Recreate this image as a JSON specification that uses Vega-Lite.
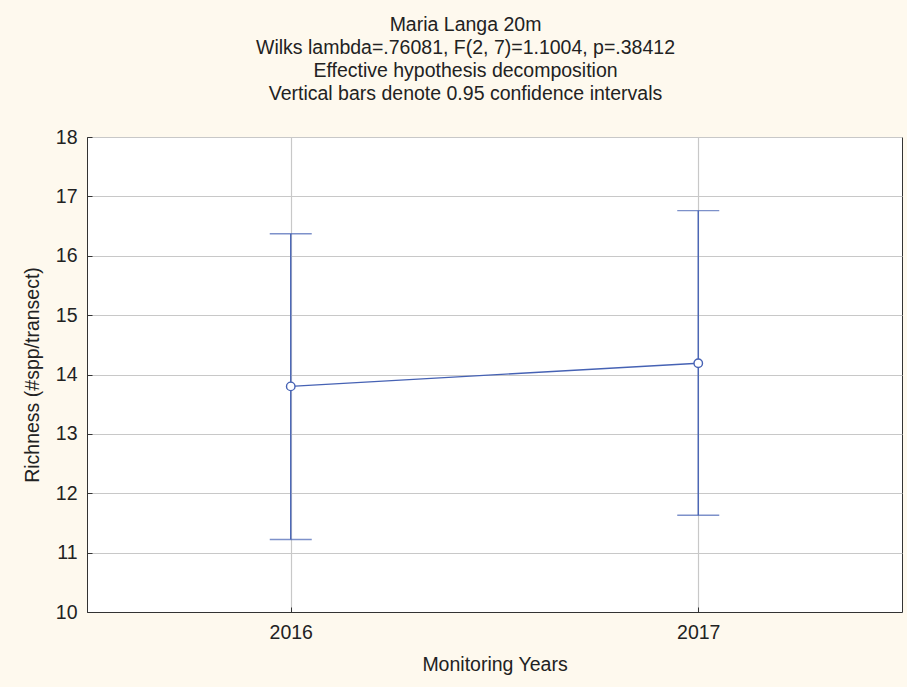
{
  "$schema": "https://vega.github.io/schema/vega-lite/v6.json",
  "width": 815,
  "height": 475,
  "autosize": {"type": "none"},
  "padding": {"left": 87, "top": 137, "right": 5, "bottom": 75},
  "background": "#FEF9EE",
  "title": {
    "text": ["Maria Langa 20m", "Wilks lambda=.76081, F(2, 7)=1.1004, p=.38412", "Effective hypothesis decomposition", "Vertical bars denote 0.95 confidence intervals"],
    "anchor": "middle",
    "dx": -29,
    "offset": 23,
    "font": "Liberation Sans",
    "fontSize": 19.5,
    "fontWeight": "normal",
    "lineHeight": 23,
    "color": "#222222"
  },
  "config": {
    "view": {"stroke": "#333333", "strokeWidth": 1, "fill": "white"},
    "axis": {
      "labelFont": "Liberation Sans",
      "titleFont": "Liberation Sans",
      "labelFontSize": 19.5,
      "titleFontSize": 19.5,
      "titleFontWeight": "normal",
      "labelColor": "#222222",
      "titleColor": "#222222",
      "domainColor": "#333333",
      "tickColor": "#333333",
      "gridColor": "#C8C8C8",
      "gridWidth": 1.2,
      "labelOverlap": false
    }
  },
  "data": {
    "values": [
      {"year": "2016", "mean": 13.8, "lo": 11.22, "hi": 16.37},
      {"year": "2017", "mean": 14.19, "lo": 11.63, "hi": 16.76}
    ]
  },
  "encoding": {
    "x": {
      "field": "year",
      "type": "ordinal",
      "scale": {"type": "point", "padding": 0.5},
      "axis": {"title": "Monitoring Years", "labelAngle": 0, "grid": true, "tickSize": -5, "labelPadding": 16, "titlePadding": 14}
    }
  },
  "layer": [
    {
      "mark": {"type": "rule", "color": "#4662B4", "strokeWidth": 1.4},
      "encoding": {
        "y": {
          "field": "lo",
          "type": "quantitative",
          "scale": {"domain": [10, 18], "nice": false, "zero": false},
          "axis": {"title": "Richness (#spp/transect)", "values": [10, 11, 12, 13, 14, 15, 16, 17, 18], "grid": true, "tickSize": -5, "labelPadding": 15, "titlePadding": 13}
        },
        "y2": {"field": "hi"}
      }
    },
    {
      "mark": {"type": "tick", "color": "#4662B4", "size": 42, "thickness": 1.4, "orient": "horizontal"},
      "encoding": {"y": {"field": "lo", "type": "quantitative", "scale": {"domain": [10, 18], "nice": false, "zero": false}, "axis": {"title": "Richness (#spp/transect)", "values": [10, 11, 12, 13, 14, 15, 16, 17, 18], "grid": true, "tickSize": -5, "labelPadding": 15, "titlePadding": 13}}}
    },
    {
      "mark": {"type": "tick", "color": "#4662B4", "size": 42, "thickness": 1.4, "orient": "horizontal"},
      "encoding": {"y": {"field": "hi", "type": "quantitative", "scale": {"domain": [10, 18], "nice": false, "zero": false}, "axis": {"title": "Richness (#spp/transect)", "values": [10, 11, 12, 13, 14, 15, 16, 17, 18], "grid": true, "tickSize": -5, "labelPadding": 15, "titlePadding": 13}}}
    },
    {
      "mark": {"type": "line", "color": "#4662B4", "strokeWidth": 1.4},
      "encoding": {"y": {"field": "mean", "type": "quantitative", "scale": {"domain": [10, 18], "nice": false, "zero": false}, "axis": {"title": "Richness (#spp/transect)", "values": [10, 11, 12, 13, 14, 15, 16, 17, 18], "grid": true, "tickSize": -5, "labelPadding": 15, "titlePadding": 13}}}
    },
    {
      "mark": {"type": "point", "shape": "circle", "filled": true, "fill": "white", "stroke": "#4662B4", "strokeWidth": 1.4, "size": 72, "opacity": 1},
      "encoding": {"y": {"field": "mean", "type": "quantitative", "scale": {"domain": [10, 18], "nice": false, "zero": false}, "axis": {"title": "Richness (#spp/transect)", "values": [10, 11, 12, 13, 14, 15, 16, 17, 18], "grid": true, "tickSize": -5, "labelPadding": 15, "titlePadding": 13}}}
    }
  ]
}
